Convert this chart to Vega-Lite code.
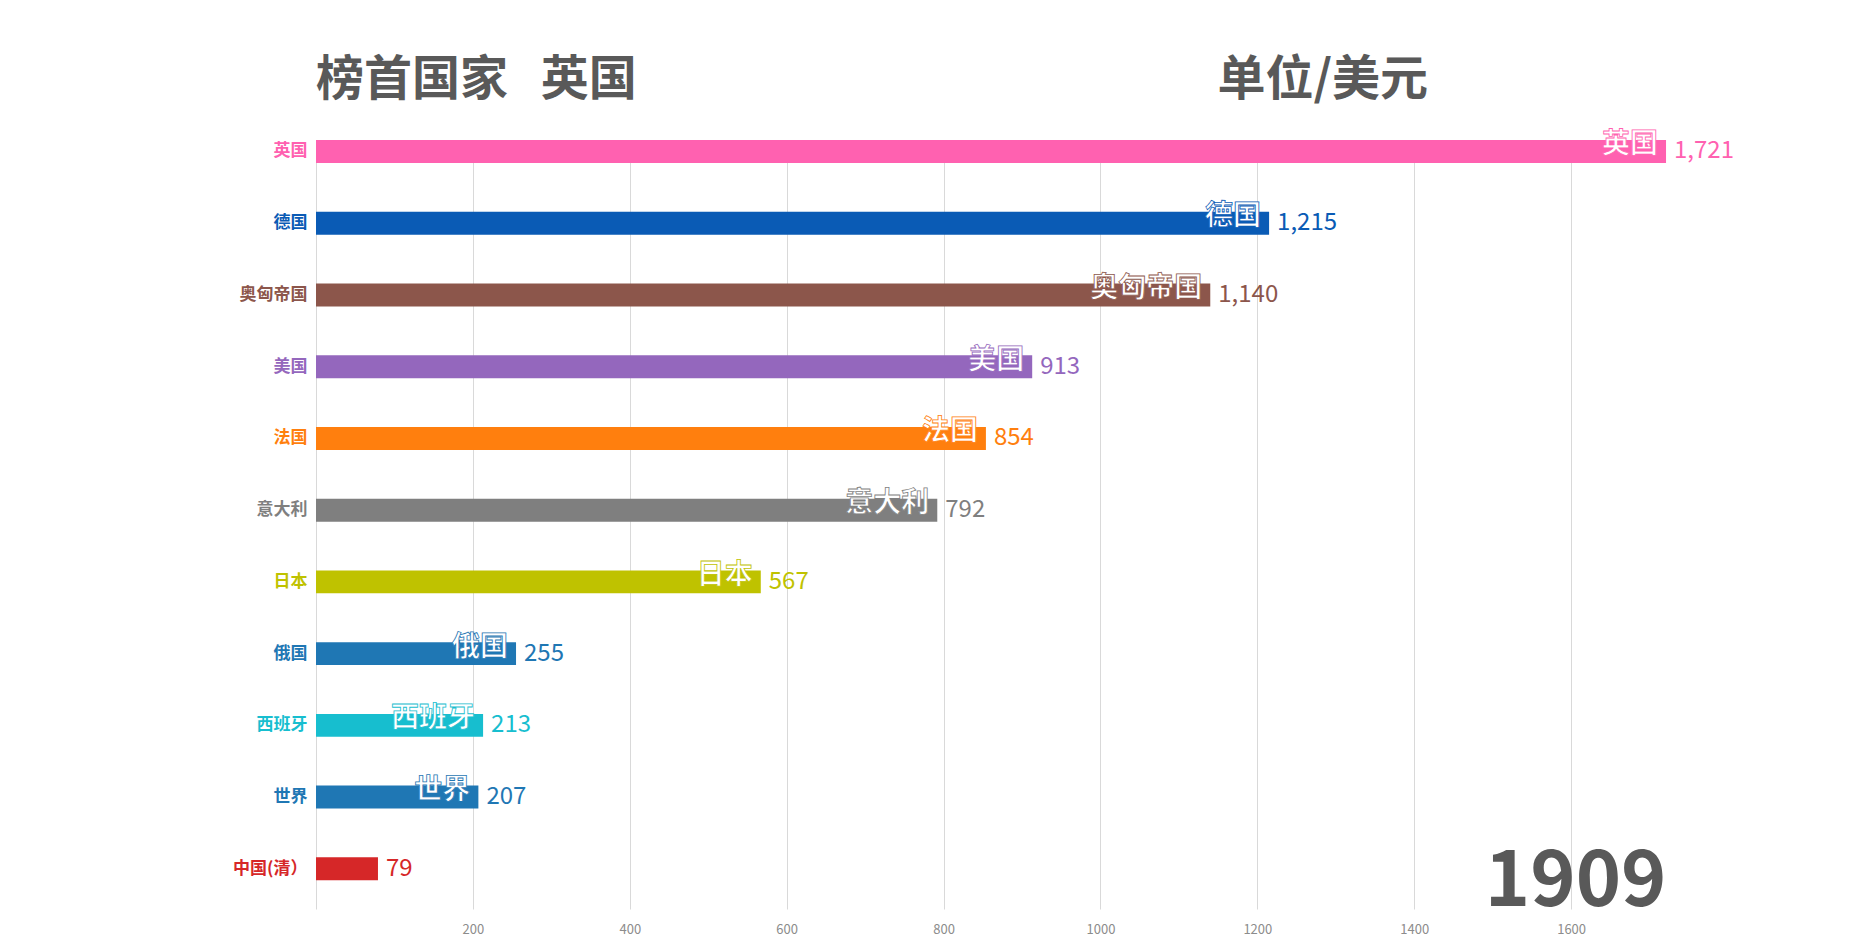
{
  "$schema": "https://vega.github.io/schema/vega-lite/v6.json",
  "width": 1412,
  "height": 769,
  "autosize": {"type": "none"},
  "padding": {"left": 316, "top": 140, "right": 146, "bottom": 39},
  "background": "white",
  "config": {"view": {"stroke": null}, "font": "Noto Sans CJK SC"},
  "title": {"text": "榜首国家\u00a0\u00a0\u00a0英国", "anchor": "start", "frame": "group", "fontSize": 48, "fontWeight": "bold", "color": "#595959", "offset": 12, "dy": 61, "font": "Noto Sans CJK SC"},
  "data": {"values": [
    {"country": "英国", "value": 1721},
    {"country": "德国", "value": 1215},
    {"country": "奥匈帝国", "value": 1140},
    {"country": "美国", "value": 913},
    {"country": "法国", "value": 854},
    {"country": "意大利", "value": 792},
    {"country": "日本", "value": 567},
    {"country": "俄国", "value": 255},
    {"country": "西班牙", "value": 213},
    {"country": "世界", "value": 207},
    {"country": "中国(清）", "value": 79}
  ]},
  "encoding": {
    "y": {"field": "country", "type": "nominal", "sort": null,
      "scale": {"paddingInner": 0.68, "paddingOuter": 0.2, "align": 0},
      "axis": {"title": "单位/美元", "titleAngle": 0, "titleX": 901, "titleY": -60, "titleAlign": "left", "titleBaseline": "middle", "titleFontSize": 48, "titleFontWeight": "bold", "titleColor": "#595959", "titleFont": "Noto Sans CJK SC",
        "domain": false, "ticks": false, "grid": false, "labelPadding": 9, "labelFontSize": 17, "labelFontWeight": "bold",
        "labelColor": {"condition": [
          {"test": "datum.value === '英国'", "value": "#FF61B0"},
          {"test": "datum.value === '德国'", "value": "#0A5BB5"},
          {"test": "datum.value === '奥匈帝国'", "value": "#8C564B"},
          {"test": "datum.value === '美国'", "value": "#9467BD"},
          {"test": "datum.value === '法国'", "value": "#FF7F0E"},
          {"test": "datum.value === '意大利'", "value": "#7F7F7F"},
          {"test": "datum.value === '日本'", "value": "#BFC200"},
          {"test": "datum.value === '西班牙'", "value": "#17BECF"},
          {"test": "datum.value === '中国(清）'", "value": "#D62728"}
        ], "value": "#1F77B4"}}},
    "x": {"field": "value", "type": "quantitative",
      "scale": {"domain": [0, 1800], "nice": false, "zero": true},
      "axis": {"title": "1909", "titleX": 1350, "titleY": -27, "titleAlign": "right", "titleBaseline": "middle", "titleFontSize": 77, "titleFontWeight": "bold", "titleColor": "#595959", "titleFont": "Noto Sans CJK SC",
        "values": [0, 200, 400, 600, 800, 1000, 1200, 1400, 1600], "labelExpr": "datum.value == 0 ? '' : datum.value", "grid": true, "gridColor": "#d9d9d9", "gridWidth": 1, "domain": false, "ticks": false, "labelPadding": 14, "labelFontSize": 13, "labelColor": "#8c8c8c"}}
  },
  "layer": [
    {
      "mark": {"type": "bar"},
      "encoding": {
        "color": {"field": "country", "type": "nominal", "legend": null,
          "scale": {"domain": ["英国", "德国", "奥匈帝国", "美国", "法国", "意大利", "日本", "俄国", "西班牙", "世界", "中国(清）"],
                    "range": ["#FF61B0", "#0A5BB5", "#8C564B", "#9467BD", "#FF7F0E", "#7F7F7F", "#BFC200", "#1F77B4", "#17BECF", "#1F77B4", "#D62728"]}}
      }
    },
    {
      "mark": {"type": "text", "align": "left", "baseline": "middle", "dx": 8, "fontSize": 24},
      "encoding": {
        "text": {"field": "value", "type": "quantitative", "format": ","},
        "color": {"field": "country", "type": "nominal", "legend": null}
      }
    },
    {
      "transform": [{"filter": "datum.value > 100"}],
      "mark": {"type": "text", "align": "right", "baseline": "middle", "dx": -8, "dy": -6, "fontSize": 28, "fontWeight": "bold", "fill": "white", "strokeWidth": 0.8},
      "encoding": {
        "text": {"field": "country", "type": "nominal"},
        "stroke": {"field": "country", "type": "nominal", "legend": null,
          "scale": {"domain": ["英国", "德国", "奥匈帝国", "美国", "法国", "意大利", "日本", "俄国", "西班牙", "世界", "中国(清）"],
                    "range": ["#FF61B0", "#0A5BB5", "#8C564B", "#9467BD", "#FF7F0E", "#7F7F7F", "#BFC200", "#1F77B4", "#17BECF", "#1F77B4", "#D62728"]}}
      }
    }
  ]
}
